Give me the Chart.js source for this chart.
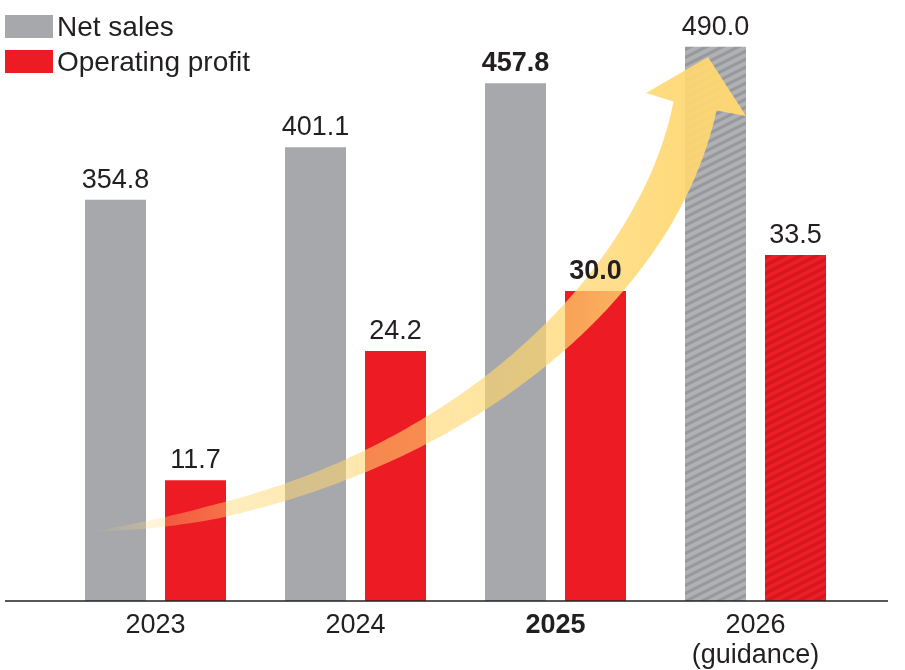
<!DOCTYPE html>
<html>
<head>
<meta charset="utf-8">
<script src="https://cdn.jsdelivr.net/npm/chart.js@4.4.1/dist/chart.umd.min.js"></script>
<style>
  html, body { margin: 0; padding: 0; background: #ffffff; }
  #wrap { width: 905px; height: 670px; }
</style>
</head>
<body>
<div id="wrap"><canvas id="c" width="905" height="670"></canvas></div>
<script>
// ---- data ----
const categories = ['2023', '2024', '2025', ['2026', '(guidance)']];
const netSales = [354.8, 401.1, 457.8, 490.0];
const operatingProfit = [11.7, 24.2, 30.0, 33.5];
const seriesNames = ['Net sales', 'Operating profit'];
const highlightIndex = 2;   // 2025 shown in bold
const guidanceIndex = 3;    // 2026 guidance, hatched

// ---- styles ----
const FONT = '"Liberation Sans", Arial, Helvetica, sans-serif';
const TEXT = '#231F20';
const GRAY = '#A7A8AC';
const RED = '#ED1C24';

function stripePattern(light, dark) {
  const t = document.createElement('canvas');
  t.width = 16; t.height = 8;
  const g = t.getContext('2d');
  g.fillStyle = light;
  g.fillRect(0, 0, 16, 8);
  g.strokeStyle = dark;
  g.lineWidth = 3.2;
  for (const c of [-8, 0, 8, 16, 24]) {
    g.beginPath();
    g.moveTo(-4, c + 2);
    g.lineTo(20, c - 10);
    g.stroke();
  }
  const ctx = document.getElementById('c').getContext('2d');
  return ctx.createPattern(t, 'repeat');
}
const grayHatch = stripePattern('#B0B1B4', '#98999D');
const redHatch = stripePattern('#EF1E26', '#D2181F');

const salesColors = netSales.map((v, i) => i === guidanceIndex ? grayHatch : GRAY);
const profitColors = operatingProfit.map((v, i) => i === guidanceIndex ? redHatch : RED);

// ---- decorative growth arrow (pixel geometry, cubic bezier) ----
const arrowCurve = [[96,531],[426,500],[655,300],[695,106]];
const arrowW = [[0,1],[0.07,8],[0.15,14],[0.3,18],[0.45,24],[0.55,28],[0.66,33],[0.75,37],[0.85,41],[1,44]];
const arrowHead = [[646,93],[708,57],[746,116]];

function widthAt(s) {
  for (let i = 0; i < arrowW.length - 1; i++) {
    const a = arrowW[i], b = arrowW[i+1];
    if (s <= b[0]) return a[1] + (b[1]-a[1]) * (s-a[0]) / (b[0]-a[0]);
  }
  return arrowW[arrowW.length-1][1];
}

const arrowPlugin = {
  id: 'arrow',
  afterDatasetsDraw(chart) {
    const ctx = chart.ctx;
    const [P0, P1, P2, P3] = arrowCurve;
    const N = 200;
    const pts = [], tans = [];
    for (let k = 0; k <= N; k++) {
      const t = k / N, u = 1 - t;
      const b0 = u*u*u, b1 = 3*u*u*t, b2 = 3*u*t*t, b3 = t*t*t;
      pts.push([b0*P0[0]+b1*P1[0]+b2*P2[0]+b3*P3[0], b0*P0[1]+b1*P1[1]+b2*P2[1]+b3*P3[1]]);
      const d0 = 3*u*u, d1 = 6*u*t, d2 = 3*t*t;
      tans.push([d0*(P1[0]-P0[0])+d1*(P2[0]-P1[0])+d2*(P3[0]-P2[0]), d0*(P1[1]-P0[1])+d1*(P2[1]-P1[1])+d2*(P3[1]-P2[1])]);
    }
    const len = [0];
    for (let i = 1; i < pts.length; i++) {
      len.push(len[i-1] + Math.hypot(pts[i][0]-pts[i-1][0], pts[i][1]-pts[i-1][1]));
    }
    const total = len[len.length-1];
    const A = [], B = [];
    for (let i = 0; i < pts.length; i++) {
      let [dx, dy] = tans[i];
      const dl = Math.hypot(dx, dy) || 1; dx /= dl; dy /= dl;
      const nx = -dy, ny = dx;
      const w = widthAt(len[i]/total) / 2;
      A.push([pts[i][0] - nx*w, pts[i][1] - ny*w]);
      B.push([pts[i][0] + nx*w, pts[i][1] + ny*w]);
    }
    const grad = ctx.createLinearGradient(92, 0, 750, 0);
    grad.addColorStop(0.00, 'rgba(255,222,135,0)');
    grad.addColorStop(0.08, 'rgba(255,220,125,0.28)');
    grad.addColorStop(0.20, 'rgba(255,216,115,0.45)');
    grad.addColorStop(0.35, 'rgba(255,214,110,0.55)');
    grad.addColorStop(0.55, 'rgba(255,214,108,0.62)');
    grad.addColorStop(0.75, 'rgba(255,214,108,0.74)');
    grad.addColorStop(0.88, 'rgba(255,215,112,0.9)');
    grad.addColorStop(1.00, 'rgba(255,216,115,0.98)');
    ctx.save();
    ctx.beginPath();
    ctx.moveTo(A[0][0], A[0][1]);
    for (let i = 1; i < A.length; i++) ctx.lineTo(A[i][0], A[i][1]);
    ctx.lineTo(arrowHead[0][0], arrowHead[0][1]);
    ctx.lineTo(arrowHead[1][0], arrowHead[1][1]);
    ctx.lineTo(arrowHead[2][0], arrowHead[2][1]);
    for (let i = B.length - 1; i >= 0; i--) ctx.lineTo(B[i][0], B[i][1]);
    ctx.closePath();
    ctx.fillStyle = grad;
    ctx.fill();
    ctx.restore();

    // baseline
    const y = chart.chartArea.bottom;
    ctx.save();
    ctx.strokeStyle = TEXT;
    ctx.lineWidth = 1.5;
    ctx.beginPath();
    ctx.moveTo(5, y);
    ctx.lineTo(888, y);
    ctx.stroke();
    ctx.restore();
  }
};

const labelPlugin = {
  id: 'valueLabels',
  afterDraw(chart) {
    const ctx = chart.ctx;
    ctx.save();
    ctx.fillStyle = TEXT;
    ctx.textAlign = 'center';
    ctx.textBaseline = 'alphabetic';
    chart.data.datasets.forEach((ds, di) => {
      const meta = chart.getDatasetMeta(di);
      meta.data.forEach((el, i) => {
        ctx.font = (i === highlightIndex ? 'bold ' : '') + '27px ' + FONT;
        ctx.fillText(ds.data[i].toFixed(1), el.x, el.y - 12);
      });
    });
    // legend
    ctx.textAlign = 'left';
    ctx.font = '28px ' + FONT;
    chart.data.datasets.forEach((ds, di) => {
      const top = 15 + di * 35;
      ctx.fillStyle = ds.legendColor;
      ctx.fillRect(5, top, 48, 23);
      ctx.fillStyle = TEXT;
      ctx.fillText(ds.label, 57, top + 21);
    });
    ctx.restore();
  }
};

new Chart(document.getElementById('c'), {
  type: 'bar',
  data: {
    labels: categories,
    datasets: [
      { label: seriesNames[0], data: netSales, backgroundColor: salesColors, legendColor: GRAY,
        yAxisID: 'ySales', borderWidth: 0, categoryPercentage: 0.8, barPercentage: 0.7625 },
      { label: seriesNames[1], data: operatingProfit, backgroundColor: profitColors, legendColor: RED,
        yAxisID: 'yProfit', borderWidth: 0, categoryPercentage: 0.8, barPercentage: 0.7625 }
    ]
  },
  options: {
    responsive: false,
    animation: false,
    devicePixelRatio: 1,
    layout: { padding: { left: 55.5, right: 49.5, top: 0, bottom: 0 } },
    plugins: { legend: { display: false }, tooltip: { enabled: false } },
    scales: {
      x: {
        grid: { display: false, drawTicks: false },
        border: { display: false },
        afterFit(scale) { scale.height = 69; },
        ticks: {
          padding: 9,
          color: TEXT,
          maxRotation: 0,
          autoSkip: false,
          font(ctx) {
            return { family: FONT, size: 27, lineHeight: 1.12, weight: ctx.index === highlightIndex ? 'bold' : 'normal' };
          }
        }
      },
      ySales: { display: false, min: 0, max: 531.4 },
      yProfit: { display: false, min: 0, max: 58.18 }
    }
  },
  plugins: [arrowPlugin, labelPlugin]
});
</script>
</body>
</html>
